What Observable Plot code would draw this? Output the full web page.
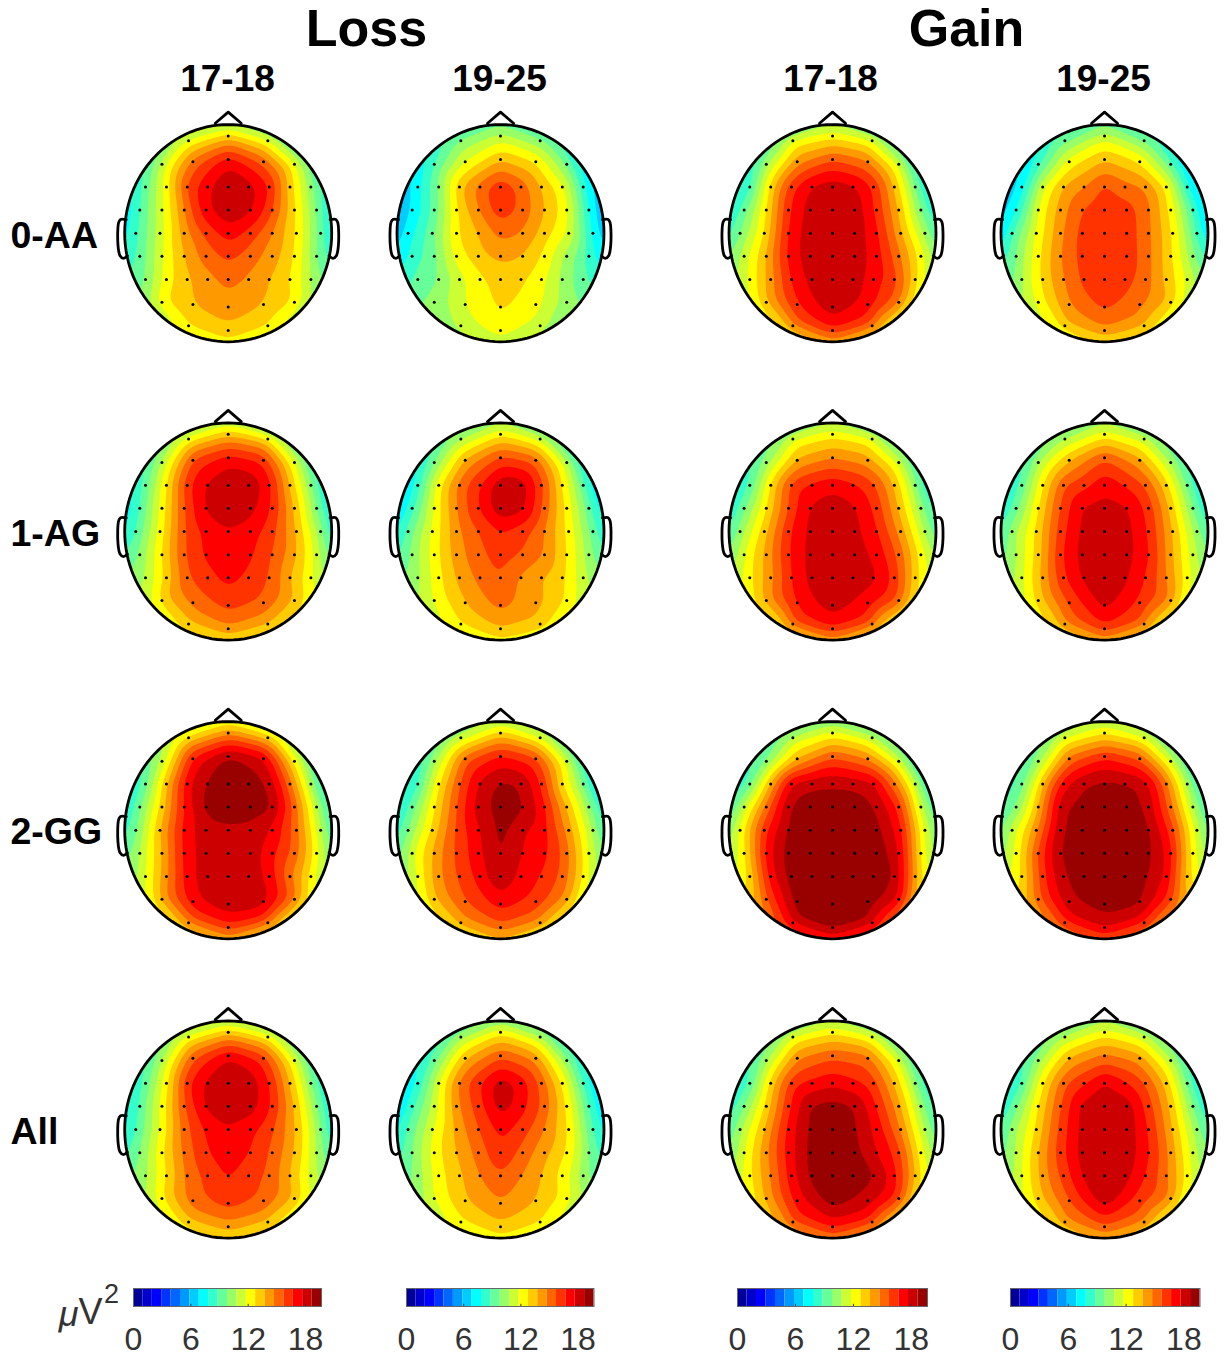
<!DOCTYPE html>
<html>
<head>
<meta charset="utf-8">
<script src="https://cdn.jsdelivr.net/npm/d3@7"></script>
<script src="https://cdn.jsdelivr.net/npm/@observablehq/plot@0.6"></script>
<style>
html,body{margin:0;padding:0;background:#fff}
#page{position:relative;width:1225px;height:1357px;overflow:hidden;font-family:"Liberation Sans",Arial,sans-serif}
#page>div,#page svg{position:absolute;top:0;left:0;background:transparent}
</style>
</head>
<body>
<div id="page"></div>
<script>
// Sampling sites in head units: rows run front to back; the first and last site of a row lie on the scalp rim.
const siteX = [0,
 -.524,-.383,0,.383,.524,
 -.772,-.64,-.341,0,.341,.64,.772,
 -.905,-.799,-.597,-.396,-.198,0,.198,.396,.597,.799,.905,
 -.977,-.854,-.64,-.425,-.214,0,.214,.425,.64,.854,.977,
 -1,-.893,-.659,-.425,-.214,0,.214,.425,.659,.893,1,
 -.977,-.854,-.64,-.425,-.214,0,.214,.425,.64,.854,.977,
 -.905,-.799,-.597,-.396,-.198,0,.198,.396,.597,.799,.905,
 -.772,-.64,-.341,0,.341,.64,.772,
 -.524,-.383,0,.383,.524,
 0];
const siteY = [-1,
 -.852,-.852,-.895,-.852,-.852,
 -.636,-.636,-.657,-.679,-.657,-.636,-.636,
 -.426,-.426,-.426,-.426,-.426,-.426,-.426,-.426,-.426,-.426,-.426,
 -.213,-.213,-.213,-.213,-.213,-.213,-.213,-.213,-.213,-.213,-.213,
 0,0,0,0,0,0,0,0,0,0,0,
 .213,.213,.213,.213,.213,.213,.213,.213,.213,.213,.213,
 .426,.426,.426,.426,.426,.426,.426,.426,.426,.426,.426,
 .636,.636,.657,.679,.657,.636,.636,
 .852,.852,.895,.852,.852,
 1];

// Power (µV²), one array per map, in site order.
const lossAA1718 = [10.5,
 10.5,12.5,13.8,12.5,10,
 9,11.5,15.5,17.6,15.8,12.5,9.5,
 8,9.5,12.5,16.3,17.8,19.2,18.5,17.2,13.5,10.5,8.5,
 7.3,9,11.8,15,17.8,18.9,18.3,16.2,13.2,10,7.8,
 7.5,8.7,11.5,14.5,16.3,17.6,16.6,15,13,9.5,7.5,
 8.3,9.3,11.9,14,15.5,16.3,15.5,14.5,13,10,8.5,
 9.3,10,12.5,13.8,14.6,15.5,14.8,14,13,11,9.8,
 10.5,12.8,14,14.5,14,13,11,
 11.8,13.3,13.8,13.3,11.8,
 12.5];
const lossAA1925 = [9.5,
 9,10.3,11.5,10.3,9,
 7.5,9,12,14,13,10,7.5,
 6.5,7.7,10,13.9,15.5,17,15.7,14,12.5,8.5,6.5,
 6,7.2,9.3,13,15,16.8,15.7,14,12.5,8,6,
 6.3,7.5,9.6,13,14,15.4,15,13.5,12,7.7,6.3,
 7.3,8.4,9.6,12.5,13.6,14.3,14,12.8,10.6,8.6,7.3,
 8.6,9.4,9.9,11.6,12.8,13.4,13.2,12.3,10.7,9.3,8.6,
 10,10.3,12,13.2,12.4,10.5,10,
 10.5,11.5,12.6,11.6,10.5,
 11.5];
const gainAA1718 = [10.5,
 9.8,12.6,12.8,12.5,9.8,
 8.5,10.8,14.7,16,15.2,12,8.5,
 7.5,8.7,13.5,16.8,18.2,18.7,18.3,17,14,10,7.8,
 8,9.5,13,17,18.5,19,18.7,16.8,14,10,8,
 8.5,10,13,17.3,18.6,19,18.7,17.3,14.2,10.8,8.8,
 10,11.5,14,17.4,18.6,19,18.7,17.5,15.3,12.6,10.5,
 11,12.3,14.5,17.2,18.4,18.8,18.6,17.5,16.5,13.5,11.5,
 12,14,17,18.7,17.6,15.5,12.5,
 12.8,15.5,17.1,16.3,13,
 14];
const gainAA1925 = [9.5,
 8.5,9.8,11.7,10,8.5,
 7,8.7,12.5,14,13,9.5,7,
 6.5,7.3,12,14.2,15,16.4,15.4,15,13,8.3,6.5,
 6.5,7.8,12.2,14.5,16.1,16.7,16.5,15.3,12.8,9,6.5,
 6.8,9,12.2,14.8,16.4,16.8,16.6,15.3,13,8.8,7,
 8.5,10,12.8,15,16.4,16.9,16.7,15.3,13.2,10.3,8.6,
 9.5,11,13.3,15,16.3,16.8,16.4,15.5,13.7,11.9,10.5,
 11,12.4,15,16.3,15.3,13.8,11.5,
 12,14,14.9,14.5,12.5,
 13];
const lossAG1718 = [11,
 10.5,12.9,14,13.5,10.5,
 9,11.2,16.3,17.5,16.9,12.3,9,
 8,9.4,13,16.8,18.2,19,18.9,17.5,13.9,10.3,8,
 7.3,9,12.5,16,18.2,18.9,18.4,17,14,10,7.8,
 7.8,9,12.4,16,17.3,17.9,17.5,16.4,14,10.5,8,
 9,10.2,13,16,17.2,17.7,17.2,16,14.3,11.6,9.5,
 10.3,11,13.3,15.9,16.7,17.4,16.8,16,14,12.2,11,
 11.5,13.5,15.3,16.4,15.8,14,12.5,
 12.5,14,14.9,14.2,13,
 13];
const lossAG1925 = [10.5,
 9.5,11,13,12,9.5,
 8,10,14.3,16.3,15.7,11.5,8,
 7,8.4,12.8,15.5,17,18.9,18.8,16.4,13,9.5,7,
 7,8.6,12.3,15,17,18.9,18.4,15.7,12.8,9.5,7.3,
 7.5,9.5,12.2,14.7,16,17.1,16.4,15,12.7,9.6,8,
 8.8,10.3,12.5,14.5,15.7,16.5,15.9,15,13,10.5,9,
 10,10.8,12.7,14.3,15.3,16.1,14.8,14,13.3,11.3,10.5,
 11,12.2,14,15.4,14.4,13,11.5,
 12,13.2,14.1,13.8,12.5,
 12.5];
const gainAG1718 = [10.5,
 10,12.3,12.8,12.5,10,
 9,10.5,14.2,15,14.5,12,9,
 8,9,13.3,16.5,17.3,17.8,17.3,16.3,14,10.5,8,
 8,9.8,13,16.1,18.2,18.6,18.2,16.7,14,10.5,8.5,
 8.8,10.5,13.6,16.9,18.3,18.6,18.3,17.2,14.6,11,9,
 10,12,14.3,17,18.4,18.7,18.5,17.7,15.8,12.6,10.8,
 11.5,12.8,14.6,17.1,18.4,18.8,18.7,18.3,16.8,13.5,12,
 12.5,14.5,17.2,18.6,17.5,16,13,
 13,16.4,17.2,16.5,13,
 14];
const gainAG1925 = [10.5,
 9.8,11,12.7,11.8,9.8,
 8.8,11,14,16,14.4,11,8.8,
 8,9.3,13,16,16.7,17.8,17,16,13.5,9.8,8,
 8,9.6,13,16.2,18.2,18.5,18.2,16.7,13.8,10,8,
 8.8,10.6,13.2,16.6,18.3,18.7,18.4,17,14,10.5,8.8,
 9.5,11,13.5,16.9,18.4,18.7,18.4,17.2,14.3,11.5,10,
 10.5,11.8,14.3,16.9,18.3,18.6,18.3,17,15,12.5,11,
 11.8,13.5,16.2,18.4,16.8,15,12,
 13,15.3,16.9,16,13,
 14];
const lossGG1718 = [12,
 11.5,13.5,15,14,11.5,
 9.5,11.3,17.4,19.3,18.4,13,9.5,
 8,9.5,14,17.8,19.2,19.6,19.5,19,15.5,11,8,
 8,9.8,13.5,17.2,19.4,19.6,19.6,19.3,15.8,11.3,8.3,
 8.5,9.7,14,17.5,18.6,18.8,18.7,17.9,15.5,11.3,8.7,
 9.5,11,14,17.4,18.5,18.8,18.6,17.2,15.7,12.5,10,
 10.5,12,14.7,17.6,18.6,18.9,18.6,17.7,15.2,12.7,11,
 12,14.5,17.7,18.8,18.6,15.5,12.5,
 13,15.5,16.8,16.2,13,
 14];
const lossGG1925 = [11,
 10,11.5,13.6,12.3,10,
 8.5,10.8,15.8,17.3,16.4,12,8.5,
 7.5,8.8,13,16,18.3,19.3,19,17,13,10,7.5,
 7.8,9.5,13,16,18.6,19.5,19.2,17.3,14,10.5,8,
 8.3,10,13.3,16.2,17.9,19.4,18.1,17.4,14.6,11,8.5,
 9.5,11.8,14.3,16.2,17.7,19.3,17.9,17.3,15.5,12,10,
 10.5,12.3,14.8,16.2,17.4,19.3,17.6,17,15.8,13,11,
 12,14,16,17.5,16.7,14.8,12,
 13,14.6,15.8,15,13,
 13.5];
const gainGG1718 = [10,
 9.5,11.5,12.5,11.7,9.5,
 8.8,10,14,15.9,15,12,8.8,
 8,9.5,14.3,18.4,18.8,18.9,18.8,18.4,15.5,11.5,8.5,
 9,11.5,15.5,19.1,19.6,19.7,19.6,19,17,11.5,9,
 10,12.3,16.8,19.3,19.7,19.8,19.7,19.4,17.5,11.8,9.8,
 11,12.7,17.5,19.5,19.8,19.9,19.8,19.6,18.3,12.8,10.5,
 12,13.2,17.7,19.6,19.8,19.9,19.8,19.7,19.2,14.5,12,
 13.5,16,19.6,19.8,19.6,18.3,14,
 16,18.7,19.5,19,16,
 17];
const gainGG1925 = [11,
 10,12.3,13,12.4,10,
 9,10.5,15.5,16.9,16,12,9,
 8.5,9.5,14,17.8,19,19.3,19.2,18.7,15.5,11,8.5,
 8.8,10,14,18.8,19.4,19.6,19.5,18.8,15.5,11,8.8,
 9.5,11.5,14.8,19,19.5,19.7,19.6,19.3,16.5,11.5,9.5,
 10.5,12.3,16.2,19.2,19.6,19.7,19.6,19.3,17.5,12.5,10.5,
 12,13,16.7,19,19.5,19.7,19.6,19.2,18,13.5,12,
 13.5,15.8,18.8,19.5,19.3,16.7,14,
 15,17.2,18.3,17.5,15,
 16];
const lossAll1718 = [10.5,
 10.5,12.8,14,13,10.5,
 9,11,16,18,16.7,12.3,9,
 8,9.4,12.7,16.9,18.3,19.1,18.8,17.2,14,10.3,8,
 7.5,9.2,12.4,16,18.3,18.9,18.6,17,14,10.2,7.8,
 7.5,9,12,15.6,17.2,17.9,17.3,16.2,14,10.2,7.8,
 8.8,10,12.8,15.3,16.9,17.7,17,15.8,14,11,9,
 10,10.7,13,15.3,16.3,17.2,16.4,15.8,14,11.6,10.5,
 11,13,15.6,16.5,15.8,14,12,
 12.3,14,14.6,14.1,12.5,
 13];
const lossAll1925 = [10,
 9,11,13,11.5,9,
 8,9.5,14,15.9,14.8,10.5,8,
 7,8.2,12,15.4,17,18.8,17.7,15.8,13,9,7,
 7,8.7,11.5,14.8,16.5,18.7,17.4,15.7,13,9,7,
 7.5,9.3,11.9,14.3,16,17.4,16.5,15,13,9,7.5,
 8.5,10,12.5,14,15.4,16.9,15.6,14.3,13,10,8.5,
 9.5,10.5,12.6,13.8,15,16,15,14,12.6,10.5,9.5,
 10.5,12.2,13.9,15,14,12.6,11,
 11.8,13,13.8,13.3,12,
 12.5];
const gainAll1718 = [10.5,
 10,12.5,13,12.5,10,
 9,10.8,15,15.8,15.5,12,9,
 8,9,13.5,16.7,17.3,17.8,17.3,16.5,14,10.5,8,
 8.3,10,13.4,16.8,19.2,19.5,19.1,17,14.5,10.6,8.5,
 9,10.8,14,17.4,19.3,19.6,19.2,17.7,15,11,9,
 10,12,14.8,17.5,19.4,19.7,19.4,18,16.5,12.5,10.5,
 11.5,12.8,15,17.6,19.4,19.7,19.6,19.2,17.5,14,12,
 12.5,14.3,17.5,19.5,18.6,16.8,13,
 14,16.5,17.4,17,14,
 15];
const gainAll1925 = [10.5,
 9.8,11.2,12.6,11.8,9.8,
 8.8,10.6,14.2,15.3,14.6,11.5,8.8,
 7.8,9,13,15.8,16.9,18.3,17.2,16,13.8,9.8,7.8,
 8,9.8,13.1,16,18.4,19,18.7,16.5,13.9,10,8,
 8.8,10.5,13.2,16.4,18.4,19,18.7,17,14,10.5,8.8,
 9.5,11.2,14,16.6,18.5,19,18.7,17.2,14.7,11.5,10,
 10.5,12,14.5,16.4,18.3,19,18.5,17,15.2,12.7,11,
 12,13.6,16,18.6,16.5,15,12,
 13,15,16.1,15.5,13,
 14];

const groupLabels = ["Loss", "Gain"];
const ageLabels = ["17-18", "19-25", "17-18", "19-25"];
const rowLabels = ["0-AA", "1-AG", "2-GG", "All"];
const tickValues = [0, 6, 12, 18];
const jet = ["#000099","#0000CC","#0000FF","#0033FF","#0066FF","#0099FF","#00CCFF","#00FFFF","#33FFCC","#66FF99",
             "#99FF66","#CCFF33","#FFFF00","#FFCC00","#FF9900","#FF6600","#FF3300","#FF0000","#CC0000","#990000"];
const levels = d3.range(jet.length);
const barMax = 19.67;

// Figure layout
const W = 1225, H = 1357, RX = 103.5, RY = 108.6;
const colX = [227.7, 500, 832, 1104];
const rowY = [232.7, 531, 829.7, 1129];
const maps = [
  [lossAA1718, lossAA1925, gainAA1718, gainAA1925],
  [lossAG1718, lossAG1925, gainAG1718, gainAG1925],
  [lossGG1718, lossGG1925, gainGG1718, gainGG1925],
  [lossAll1718, lossAll1925, gainAll1718, gainAll1925]
];

const earShape = [[-.985,-.125],[-1.04,-.127],[-1.058,-.10],[-1.065,.11],[-1.045,.207],[-1.012,.231],[-.975,.207]];
const noseShape = [[-.125,-1.012],[0,-1.115],[.126,-1.012]];
const ellipse = d3.range(0, 121).map(i => [Math.cos(i / 60 * Math.PI), Math.sin(i / 60 * Math.PI)]);

const heads = [];
rowY.forEach((cy, r) => colX.forEach((cx, c) => heads.push({cx, cy, values: maps[r][c]})));

const placed = (h, shape, sx = 1, sy = 1) => shape.map(([u, v]) => [h.cx + u * RX * sx, h.cy + v * RY * sy]);
const maskW = 52;

const contours = heads.map(h => Plot.contour(
  h.values.map((v, i) => ({px: h.cx + siteX[i] * RX, py: h.cy + siteY[i] * RY, v})),
  {x: "px", y: "py", fill: "v", interpolate: "barycentric", thresholds: levels, blur: 6, pixelSize: 1,
   x1: h.cx - RX - 2, x2: h.cx + RX + 2, y1: h.cy - RY - 2, y2: h.cy + RY + 2}
));
const masks = heads.map(h => Plot.line(
  placed(h, ellipse, (RX + maskW / 2) / RX, (RY + maskW / 2) / RY),
  {stroke: "white", strokeWidth: maskW}
));
const outlineOpts = {stroke: "black", strokeWidth: 2.8, strokeLinejoin: "round", strokeLinecap: "round"};
const outlines = heads.flatMap(h => [
  Plot.line(placed(h, ellipse), outlineOpts),
  Plot.line(placed(h, noseShape), outlineOpts),
  Plot.line(placed(h, earShape), {...outlineOpts, curve: "catmull-rom"}),
  Plot.line(placed(h, earShape, -1, 1), {...outlineOpts, curve: "catmull-rom"})
]);
const electrodes = heads.map(h => Plot.dot(
  siteX.map((u, i) => [u, siteY[i]]).filter(([u, v]) => u * u + v * v < 0.95)
       .map(([u, v]) => [h.cx + u * RX, h.cy + v * RY]),
  {r: 1.5, fill: "black"}
));

const font = '"Liberation Sans", Arial, sans-serif';
const main = Plot.plot({
  width: W, height: H, margin: 0,
  style: {background: "transparent", fontFamily: font},
  x: {domain: [0, W], range: [0, W], axis: null},
  y: {domain: [0, H], range: [0, H], axis: null},
  color: {type: "threshold", domain: levels.slice(1), range: jet},
  marks: [
    ...contours, ...masks, ...outlines, ...electrodes,
    Plot.text(groupLabels, {x: (d, i) => [366, 966][i], y: 29, text: d => d, fontSize: 52, fontWeight: "bold", fill: "black", fontFamily: font}),
    Plot.text(ageLabels, {x: (d, i) => [227, 499, 830, 1103][i], y: 79, text: d => d, fontSize: 37, fontWeight: "bold", fill: "black", fontFamily: font}),
    Plot.text(rowLabels, {x: 10, y: (d, i) => [235, 533, 831, 1131][i], text: d => d, textAnchor: "start", fontSize: 37.5, fontWeight: "bold", fill: "black", fontFamily: font}),
    Plot.text(["\u03BC"], {x: 68, y: 1314, text: d => d, fontSize: 36, fontStyle: "italic", fill: "#333", fontFamily: font}),
    Plot.text(["V"], {x: 90, y: 1312, text: d => d, fontSize: 36, fill: "#333", fontFamily: font}),
    Plot.text(["2"], {x: 111, y: 1294, text: d => d, fontSize: 27, fill: "#333", fontFamily: font})
  ]
});
const page = document.getElementById("page");
page.appendChild(main);

// One colour bar per column
const barSpots = [[133, 321], [405.5, 593], [737, 927], [1009.5, 1199]];
const barTop = 1288, barH = 18, barPad = 24, barBottom = 51;
const step = barMax / jet.length;
barSpots.forEach(([a, b]) => {
  const bar = Plot.plot({
    width: b - a + 2 * barPad, height: barH + barBottom,
    marginLeft: barPad, marginRight: barPad, marginTop: 0, marginBottom: barBottom,
    style: {background: "transparent", fontFamily: font, overflow: "visible"},
    x: {domain: [0, barMax]},
    y: {domain: [0, 1], axis: null},
    marks: [
      Plot.rect(levels, {x1: k => k * step, x2: k => (k + 1) * step, y1: 0, y2: 1, fill: k => jet[k]}),
      Plot.ruleX(tickValues.slice(1), {y1: 0, y2: 0.12, stroke: "#333", strokeWidth: 1}),
      Plot.frame({stroke: "#666", strokeWidth: 1}),
      Plot.axisX({ticks: tickValues, tickSize: 0, tickPadding: 21, fontSize: 32, fill: "#333", tickFormat: d => String(d), label: null})
    ]
  });
  bar.style.left = (a - barPad) + "px";
  bar.style.top = barTop + "px";
  page.appendChild(bar);
});
</script>
</body>
</html>
